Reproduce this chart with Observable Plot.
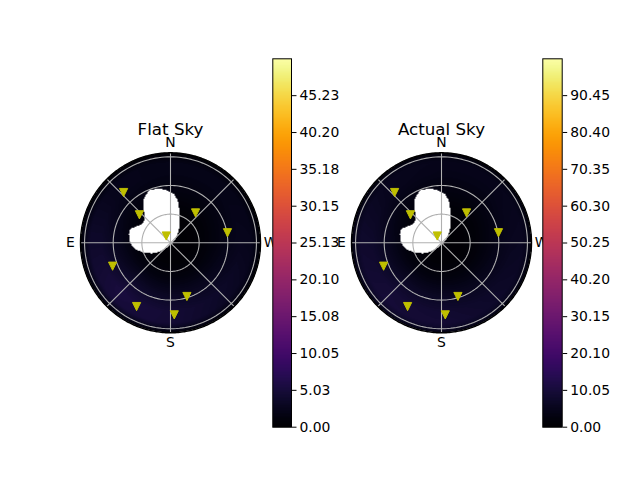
<!DOCTYPE html>
<html>
<head>
<meta charset="utf-8">
<script src="https://cdn.jsdelivr.net/npm/d3@7"></script>
<script src="https://cdn.jsdelivr.net/npm/@observablehq/plot@0.6"></script>
<style>
html, body { margin: 0; padding: 0; background: #ffffff; }
#fig { position: relative; width: 640px; height: 480px; overflow: hidden; background: #ffffff; }
#fig svg { position: absolute; left: 0; top: 0; }
</style>
</head>
<body>
<div id="fig"></div>
<script>
// ---------------- data ----------------
const titles = ["Flat Sky", "Actual Sky"];
const compassLabels = ["N", "E", "S", "W"];
const compassAzimuths = [0, 90, 180, 270];
const ringZeniths = [0.5, 1.0, 1.5];
const spokeAzimuths = [0, 45, 90, 135, 180, 225, 270, 315];
const horizonZenith = Math.PI / 2;

// triangle markers (azimuth in degrees from N towards E, zenith angle in radians)
const markerAzimuths = [43, 48, 32, 320, 280, 112, 152, 183, 197];
const markerZeniths  = [1.20, 0.73, 0.14, 0.68, 1.01, 1.09, 1.26, 1.26, 0.98];

// masked (no data) region outline, polar
const maskAzimuths = [31.4, 22.6, 13.9, 5.4, 356.1, 350.1, 345.6, 337.7, 325.3, 311.8, 258.3,
                      144.7, 131.0, 120.1, 110.0, 102.4, 94.5, 86.3, 78.2, 71.1, 65.4, 58.5, 49.8, 42.2, 37.2];
const maskZeniths  = [0.898, 0.988, 0.971, 0.934, 0.856, 0.748, 0.610, 0.417, 0.257, 0.141, 0.030,
                      0.100, 0.232, 0.372, 0.498, 0.599, 0.675, 0.721, 0.741, 0.742, 0.675, 0.604, 0.597, 0.679, 0.794];

// sky brightness samples: rows = azimuth, columns = zenith
const sampleAzimuths = [0, 45, 90, 135, 180, 225, 270, 315];
const sampleZeniths  = [0, 0.3, 0.6, 0.9, 1.2, 1.4, 1.5, 1.571];
const flatSkyValues = [
  [0.1, 0.2, 0.6, 1.4, 2.0, 2.0, 1.2, 0.3],
  [0.1, 0.2, 0.7, 1.6, 2.3, 2.3, 1.4, 0.3],
  [0.1, 0.3, 1.0, 2.4, 3.8, 3.8, 2.0, 0.4],
  [0.1, 0.4, 1.4, 3.6, 5.4, 5.0, 2.6, 0.5],
  [0.1, 0.4, 1.2, 3.0, 4.6, 4.6, 2.6, 0.5],
  [0.1, 0.3, 1.0, 2.6, 3.6, 3.2, 2.0, 0.4],
  [0.1, 0.2, 0.8, 1.8, 2.6, 2.4, 1.5, 0.3],
  [0.1, 0.2, 0.6, 1.4, 2.0, 2.0, 1.2, 0.3]
];
const actualSkyValues = [
  [0.2, 0.4, 1.2, 2.8, 4.2, 4.6, 3.6, 1.2],
  [0.2, 0.4, 1.4, 3.2, 5.0, 5.4, 4.2, 1.4],
  [0.2, 0.6, 2.0, 5.0, 7.6, 8.0, 6.0, 2.0],
  [0.2, 0.8, 2.6, 6.4, 9.4, 9.6, 7.2, 2.4],
  [0.2, 0.8, 2.4, 5.8, 8.6, 9.2, 7.2, 2.4],
  [0.2, 0.6, 2.0, 4.8, 7.0, 7.4, 5.6, 1.8],
  [0.2, 0.5, 1.6, 3.8, 5.6, 6.0, 4.6, 1.5],
  [0.2, 0.4, 1.2, 2.8, 4.2, 4.6, 3.6, 1.2]
];

// colour bars
const flatSkyMax = 50.26;
const actualSkyMax = 100.5;
const flatSkyTicks = [0.00, 5.03, 10.05, 15.08, 20.10, 25.13, 30.15, 35.18, 40.20, 45.23];
const actualSkyTicks = [0.00, 10.05, 20.10, 30.15, 40.20, 50.25, 60.30, 70.35, 80.40, 90.45];

// ---------------- helpers ----------------
const rad = Math.PI / 180;
const px = (az, zen) => -zen * Math.sin(az * rad); // East on the left
const py = (az, zen) => zen * Math.cos(az * rad);  // North up

const maskPolygon = maskAzimuths.map((a, i) => [px(a, maskZeniths[i]), py(a, maskZeniths[i])]);

const markers = markerAzimuths.map((a, i) => ({az: a, zen: markerZeniths[i]}));
const compass = compassLabels.map((t, i) => ({text: t, az: compassAzimuths[i]}));
const ringPoints = ringZeniths.flatMap(r => d3.range(0, 361, 2).map(a => ({r, a})));
const horizonPoints = d3.range(0, 361, 1).map(a => ({r: horizonZenith, a}));

function field(values) {
  const n = sampleAzimuths.length;
  return (X, Y) => {
    const zen = Math.hypot(X, Y);
    if (zen > horizonZenith) return NaN;
    if (d3.polygonContains(maskPolygon, [X, Y])) return NaN;
    let az = Math.atan2(-X, Y) / rad;
    if (az < 0) az += 360;
    let i0 = d3.bisectRight(sampleAzimuths, az) - 1;
    if (i0 < 0) i0 = 0;
    const i1 = (i0 + 1) % n;
    const a0 = sampleAzimuths[i0];
    const a1 = i1 === 0 ? 360 : sampleAzimuths[i1];
    const ta = (az - a0) / (a1 - a0);
    let j = d3.bisectRight(sampleZeniths, zen) - 1;
    j = Math.max(0, Math.min(j, sampleZeniths.length - 2));
    const tz = Math.max(0, Math.min(1, (zen - sampleZeniths[j]) / (sampleZeniths[j + 1] - sampleZeniths[j])));
    const v = row => row[j] * (1 - tz) + row[j + 1] * tz;
    return v(values[i0]) * (1 - ta) + v(values[i1]) * ta;
  };
}

const triangleDown = {
  draw(context, size) {
    const h = Math.sqrt(size / Math.PI);
    context.moveTo(0, h);
    context.lineTo(-h, -h);
    context.lineTo(h, -h);
    context.closePath();
  }
};

const W = 640, H = 480;
const baseStyle = {background: "transparent", fontFamily: "'DejaVu Sans', sans-serif", fontSize: "13.9px", color: "black", overflow: "visible"};

function polarPlot(cx, title, values, max) {
  const R = 90, cy = 242.3;
  const labelZenith = horizonZenith + 0.175;
  return Plot.plot({
    width: W, height: H,
    marginLeft: cx - R, marginRight: W - (cx + R),
    marginTop: cy - R, marginBottom: H - (cy + R),
    x: {domain: [-horizonZenith, horizonZenith], axis: null},
    y: {domain: [-horizonZenith, horizonZenith], axis: null},
    color: {type: "linear", scheme: "inferno", domain: [0, max]},
    style: baseStyle,
    marks: [
      Plot.raster({x1: -horizonZenith, x2: horizonZenith, y1: -horizonZenith, y2: horizonZenith, fill: field(values)}),
      Plot.line(ringPoints, {x: d => px(d.a, d.r), y: d => py(d.a, d.r), z: "r", stroke: "#b0b0b0", strokeWidth: 1.1}),
      Plot.link(spokeAzimuths, {x1: 0, y1: 0, x2: a => px(a, horizonZenith), y2: a => py(a, horizonZenith), stroke: "#b0b0b0", strokeWidth: 1.1}),
      Plot.line(horizonPoints, {x: d => px(d.a, d.r), y: d => py(d.a, d.r), stroke: "black", strokeWidth: 1.4}),
      Plot.dot(markers, {x: d => px(d.az, d.zen), y: d => py(d.az, d.zen), symbol: triangleDown, r: 4.1, fill: "#bfbf00", stroke: "#bfbf00", strokeWidth: 1}),
      Plot.text(compass, {x: d => px(d.az, labelZenith), y: d => py(d.az, labelZenith), text: "text", fontSize: 13.9, textAnchor: "middle", lineAnchor: "middle", fill: "black"}),
      Plot.text([title], {x: 0, y: horizonZenith, dy: -18.3, text: d => d, fontSize: 16.7, textAnchor: "middle", lineAnchor: "bottom", fill: "black"})
    ]
  });
}

function colorBar(left, right, max, ticks) {
  const top = 58.3, bottom = 426.7;
  return Plot.plot({
    width: W, height: H,
    marginLeft: left, marginRight: W - right,
    marginTop: top, marginBottom: H - bottom,
    x: {domain: [0, 1], axis: null},
    y: {domain: [0, max]},
    color: {type: "linear", scheme: "inferno", domain: [0, max]},
    style: baseStyle,
    marks: [
      Plot.raster({x1: 0, x2: 1, y1: 0, y2: max, fill: (x, y) => y}),
      Plot.frame({stroke: "black", strokeWidth: 1}),
      Plot.axisY(ticks, {anchor: "right", tickSize: 4.5, tickPadding: 3.5, tickFormat: d => d.toFixed(2), fontSize: 13.9, label: null})
    ]
  });
}

const fig = document.getElementById("fig");
fig.append(polarPlot(170, titles[0], flatSkyValues, flatSkyMax));
fig.append(polarPlot(441, titles[1], actualSkyValues, actualSkyMax));
fig.append(colorBar(272.3, 291, flatSkyMax, flatSkyTicks));
fig.append(colorBar(542.3, 561.7, actualSkyMax, actualSkyTicks));
</script>
</body>
</html>
